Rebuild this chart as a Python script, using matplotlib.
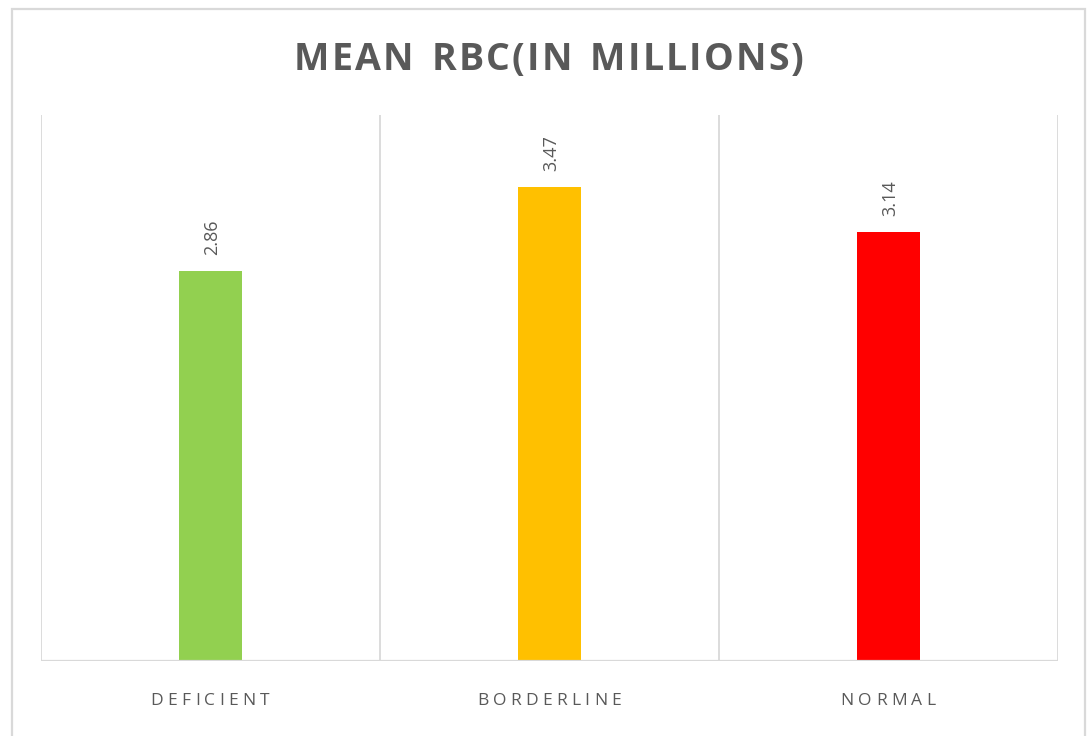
import matplotlib
matplotlib.use("Agg")
import matplotlib.pyplot as plt
from matplotlib.patches import Rectangle

categories = ["DEFICIENT", "BORDERLINE", "NORMAL"]
values = [2.86, 3.47, 3.14]
bar_colors = ["#92D050", "#FFC000", "#FF0000"]
title = "MEAN RBC(IN MILLIONS)"

W, H, DPI = 1087, 736, 100
TEXT = "#595959"
GRID = "#D9D9D9"

fig = plt.figure(figsize=(W / DPI, H / DPI), dpi=DPI)
fig.patch.set_facecolor("white")

# chart frame
fig.patches.append(Rectangle((12 / W, -0.05), (1085 - 12) / W, (H - 9) / H + 0.05,
                             transform=fig.transFigure, fill=False,
                             edgecolor=GRID, linewidth=1.6))

ax = fig.add_axes([41 / W, (H - 661) / H, (1058 - 41) / W, (661 - 115) / H])
x = list(range(len(categories)))
ax.bar(x, values, width=0.186, color=bar_colors, zorder=3)
ax.set_xlim(-0.5, len(categories) - 0.5)
ax.set_ylim(0, 4.0)

for s in ax.spines.values():
    s.set_visible(False)
ax.set_xticks([])
ax.set_yticks([])
for b in [i - 0.5 for i in range(len(categories) + 1)]:
    ax.axvline(b, color=GRID, linewidth=1.3, zorder=1)
ax.axhline(0, color=GRID, linewidth=1.6, zorder=4)

for xi, v in zip(x, values):
    ax.annotate(f"{v:.2f}", (xi, v), xytext=(2, 16), textcoords="offset pixels",
                rotation=90, ha="center", va="bottom", color=TEXT,
                fontsize=13, family="Open Sans")

renderer = fig.canvas.get_renderer()


def spaced_text(s, cx, base_y, spacing, **kw):
    widths = []
    for ch in s:
        t = fig.text(0, 0, ch if ch != " " else "n", **kw)
        w = t.get_window_extent(renderer).width
        if ch == " ":
            w *= 0.55
        widths.append(w)
        t.remove()
    total = sum(widths) + spacing * (len(s) - 1)
    px = cx - total / 2
    for ch, w in zip(s, widths):
        if ch != " ":
            fig.text(px / W, (H - base_y) / H, ch, ha="left", va="baseline", **kw)
        px += w + spacing


spaced_text(title, 549, 70, 2.2, fontsize=27, fontweight="bold",
            family="Open Sans", color=TEXT)

bar_centers_px = [210, 549, 888]
for name, cx in zip(categories, bar_centers_px):
    spaced_text(name, cx, 705, 4.3, fontsize=12.5, family="Open Sans", color=TEXT)

fig.savefig("out.png", dpi=DPI, facecolor="white")
